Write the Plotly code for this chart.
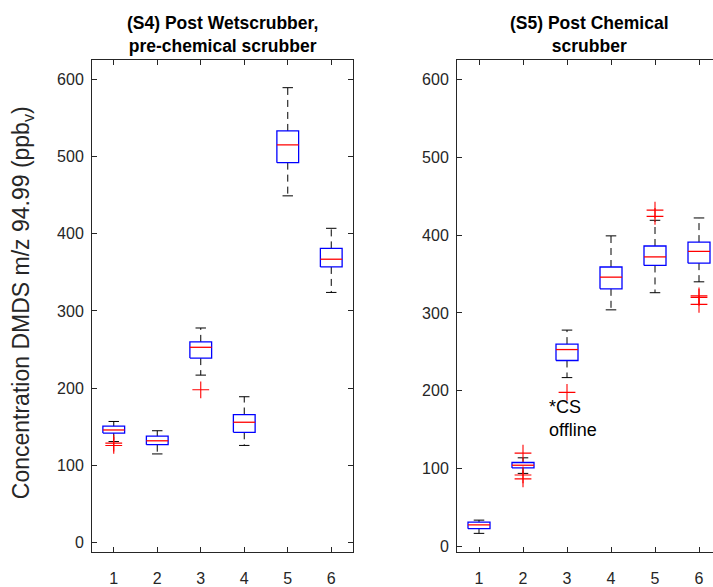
import plotly.graph_objects as go

# ---------------- data ----------------
categories = [1, 2, 3, 4, 5, 6]
y_ticks = [0, 100, 200, 300, 400, 500, 600]

# (S4) Post Wetscrubber, pre-chemical scrubber
s4_lower = [131, 115, 217, 126, 449, 324]
s4_q1 = [142, 127, 239, 143, 492, 357]
s4_median = [146, 132, 253, 156, 515, 367]
s4_q3 = [151, 138, 260, 166, 533, 381]
s4_upper = [157, 145, 278, 189, 589, 407]
s4_outliers = [[129, 126], [], [198], [], [], []]

# (S5) Post Chemical scrubber
s5_lower = [17, 94, 217, 304, 326, 340]
s5_q1 = [23, 101, 239, 331, 361, 364]
s5_median = [28, 104.5, 253, 346, 372, 379]
s5_q3 = [31.5, 108, 260, 359, 386, 391]
s5_upper = [34, 114, 278, 399, 419, 422]
s5_outliers = [[], [120, 92, 87], [198], [], [432, 424], [322, 320, 311]]

title_s4 = "(S4) Post Wetscrubber,<br>pre-chemical scrubber"
title_s5 = "(S5) Post Chemical<br>scrubber"
y_label = "Concentration DMDS m/z 94.99 (ppb<sub>v</sub>)"
note_text = "*CS<br>offline"

# ---------------- style ----------------
BOX_HALF = 0.25
CAP_HALF = 0.12
FONT = "Liberation Sans, Arial, Helvetica, sans-serif"
AX_COLOR = "#262626"
W, H = 713, 587


def box_traces(xa, ya, lower, q1, med, q3, upper, outliers):
    bx, by, mx, my, wx, wy, cx, cy, ox, oy = [], [], [], [], [], [], [], [], [], []
    for i, c in enumerate(categories):
        l, r = c - BOX_HALF, c + BOX_HALF
        bx += [l, r, r, l, l, None]
        by += [q1[i], q1[i], q3[i], q3[i], q1[i], None]
        mx += [l, r, None]
        my += [med[i], med[i], None]
        wx += [c, c, None, c, c, None]
        wy += [q3[i], upper[i], None, q1[i], lower[i], None]
        cx += [c - CAP_HALF, c + CAP_HALF, None, c - CAP_HALF, c + CAP_HALF, None]
        cy += [upper[i], upper[i], None, lower[i], lower[i], None]
        for o in outliers[i]:
            ox.append(c)
            oy.append(o)
    common = dict(xaxis=xa, yaxis=ya, showlegend=False, hoverinfo="skip")
    return [
        go.Scatter(x=wx, y=wy, mode="lines",
                   line=dict(color="#000000", width=1, dash="7px,5px"), **common),
        go.Scatter(x=cx, y=cy, mode="lines",
                   line=dict(color="#000000", width=1), **common),
        go.Scatter(x=bx, y=by, mode="lines",
                   line=dict(color="#0000ff", width=1.3), **common),
        go.Scatter(x=mx, y=my, mode="lines",
                   line=dict(color="#ff0000", width=1.3), **common),
        go.Scatter(x=ox, y=oy, mode="markers",
                   marker=dict(symbol="cross-thin", size=12,
                               line=dict(color="#ff0000", width=1.1)), **common),
    ]


fig = go.Figure()
for t in box_traces("x", "y", s4_lower, s4_q1, s4_median, s4_q3, s4_upper, s4_outliers):
    fig.add_trace(t)
for t in box_traces("x2", "y2", s5_lower, s5_q1, s5_median, s5_q3, s5_upper, s5_outliers):
    fig.add_trace(t)

y_dom = [1 - 563 / H, 1 - 61 / H]
ax_common = dict(showline=True, linecolor=AX_COLOR, linewidth=1, ticks="inside",
                 ticklen=5, tickcolor=AX_COLOR, tickwidth=1, showgrid=False,
                 zeroline=False, tickfont=dict(family=FONT, size=16, color=AX_COLOR))

fig.update_layout(
    width=W, height=H,
    margin=dict(l=0, r=0, t=0, b=0),
    paper_bgcolor="white", plot_bgcolor="white",
    font=dict(family=FONT),
    xaxis=dict(domain=[92 / W, 353 / W], range=[0.5, 6.5], tickvals=categories,
               mirror="ticks", anchor="y", ticklabelstandoff=11, **ax_common),
    yaxis=dict(domain=y_dom, range=[-12.5, 625], tickvals=y_ticks,
               mirror="ticks", anchor="x", ticklabelstandoff=4, **ax_common),
    xaxis2=dict(domain=[457 / W, 1.0], range=[0.5, 0.5 + 256 / 44.0], tickvals=categories,
                mirror="ticks", anchor="y2", ticklabelstandoff=11, **ax_common),
    yaxis2=dict(domain=y_dom, range=[-7.5, 625], tickvals=y_ticks,
                mirror=False, anchor="x2", ticklabelstandoff=4, **ax_common),
)

ann = []
left_c = (92 + 353) / 2 / W
right_c = 589 / W
for txt, xc in [(title_s4, left_c), (title_s5, right_c)]:
    ann.append(dict(text=f"<b>{txt}</b>", x=xc, y=1 - 35 / H, xref="paper", yref="paper",
                    xanchor="center", yanchor="middle", showarrow=False,
                    font=dict(family=FONT, size=17.5, color="black")))
ann.append(dict(text=y_label, x=22 / W, y=1 - 309 / H, xref="paper", yref="paper",
                xanchor="center", yanchor="middle", textangle=-90, showarrow=False,
                font=dict(family=FONT, size=23, color=AX_COLOR)))
ann.append(dict(text=note_text, x=2.55, y=164, xref="x2", yref="y2",
                xanchor="left", yanchor="middle", align="left", showarrow=False,
                font=dict(family=FONT, size=18, color="black")))
fig.update_layout(annotations=ann)

fig.write_html("out.html")
